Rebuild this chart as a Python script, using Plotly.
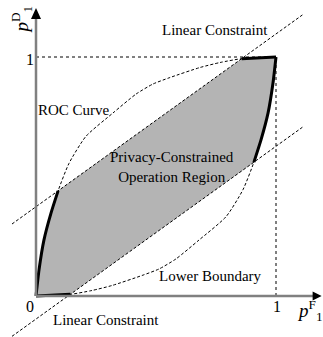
import plotly.graph_objects as go

# ROC curve read as (false-alarm, detection) probability pairs
roc_pf = [0, 0.0125, 0.033, 0.0625, 0.092, 0.1375, 0.208, 0.321, 0.417, 0.4875, 0.558, 0.683, 0.767, 0.857, 1]
roc_pd = [0, 0.109, 0.234, 0.347, 0.44, 0.555, 0.668, 0.766, 0.845, 0.887, 0.914, 0.956, 0.977, 0.993, 1]

# indices where the upper linear constraint meets the ROC curve
cut_low = 4    # pF = 0.092
cut_high = 13  # pF = 0.857

# linear constraints: pD = intercept + slope * pF
constraint_slope = 0.7229
upper_intercept = 0.3735
lower_intercept = 1 - upper_intercept - constraint_slope
line_pf = [-0.1, 1.11]

# lower boundary is the ROC curve mirrored through (0.5, 0.5)
lb_pf = [1 - v for v in roc_pf]
lb_pd = [1 - v for v in roc_pd]

FONT = "Liberation Serif, Times New Roman, serif"
fig = go.Figure()

# operation region
reg_x = (roc_pf[:cut_low + 1] + roc_pf[cut_high:]
         + lb_pf[:cut_low + 1] + lb_pf[cut_high:])
reg_y = (roc_pd[:cut_low + 1] + roc_pd[cut_high:]
         + lb_pd[:cut_low + 1] + lb_pd[cut_high:])
fig.add_trace(go.Scatter(x=reg_x, y=reg_y, fill="toself", fillcolor="#b4b4b4",
                         mode="lines", line=dict(width=0), hoverinfo="skip"))

dash = dict(color="black", width=1, dash="3px,2px")
# ROC curve and lower boundary (dashed)
fig.add_trace(go.Scatter(x=roc_pf, y=roc_pd, mode="lines",
                         line=dict(shape="spline", smoothing=0.6, **dash)))
fig.add_trace(go.Scatter(x=lb_pf, y=lb_pd, mode="lines",
                         line=dict(shape="spline", smoothing=0.6, **dash)))
# linear constraints (dashed)
fig.add_trace(go.Scatter(x=line_pf, y=[upper_intercept + constraint_slope * v for v in line_pf],
                         mode="lines", line=dash))
fig.add_trace(go.Scatter(x=line_pf, y=[lower_intercept + constraint_slope * v for v in line_pf],
                         mode="lines", line=dash))

# bold parts of the region boundary
bold = dict(color="black", width=3, shape="spline", smoothing=0.6)
for xs, ys in [(roc_pf[:cut_low + 1], roc_pd[:cut_low + 1]),
               (roc_pf[cut_high:], roc_pd[cut_high:]),
               (lb_pf[:cut_low + 1], lb_pd[:cut_low + 1]),
               (lb_pf[cut_high:], lb_pd[cut_high:])]:
    fig.add_trace(go.Scatter(x=xs, y=ys, mode="lines", line=bold))

shapes = [
    # reference lines at probability 1
    dict(type="line", x0=0, y0=1, x1=1, y1=1, line=dict(color="black", width=1, dash="dot")),
    dict(type="line", x0=1, y0=0, x1=1, y1=1, line=dict(color="black", width=1, dash="dot")),
    # axes
    dict(type="line", x0=0, y0=0, x1=1.16, y1=0, line=dict(color="#808080", width=2.5)),
    dict(type="line", x0=0, y0=0, x1=0, y1=1.18, line=dict(color="#808080", width=2.5)),
    # arrowheads
    dict(type="path", xsizemode="pixel", ysizemode="pixel", xanchor=1.19, yanchor=0,
         path="M0,0 L-9,4.5 L-9,-4.5 Z", fillcolor="black", line=dict(width=0)),
    dict(type="path", xsizemode="pixel", ysizemode="pixel", xanchor=0, yanchor=1.205,
         path="M0,0 L-5,-11 L5,-11 Z", fillcolor="black", line=dict(width=0)),
]

def label(x, y, text, size=15, angle=0):
    return dict(x=x, y=y, text=text, showarrow=False, textangle=angle,
                font=dict(family=FONT, size=size, color="black"))

annotations = [
    label(0.158, 0.778, "ROC Curve"),
    label(0.746, 1.113, "Linear Constraint"),
    label(0.565, 0.54, "Privacy-Constrained<br>Operation Region"),
    label(0.729, 0.084, "Lower Boundary"),
    label(0.29, -0.1, "Linear Constraint"),
    label(-0.025, -0.046, "0", 16),
    label(1.004, -0.046, "1", 16),
    label(-0.023, 0.99, "1", 16),
    label(1.14, -0.06, "<i>p</i><sup>F</sup><sub>1</sub>", 19),
    label(-0.06, 1.155, "<i>p</i><sup>D</sup><sub>1</sub>", 19, -90),
]

fig.update_layout(
    width=323, height=337, margin=dict(l=0, r=0, t=0, b=0),
    paper_bgcolor="white", plot_bgcolor="white", showlegend=False,
    font=dict(family=FONT),
    xaxis=dict(range=[-0.15, 1.19583], visible=False, fixedrange=True),
    yaxis=dict(range=[-0.17155, 1.23849], visible=False, fixedrange=True),
    shapes=shapes, annotations=annotations,
)

fig.write_html("out.html")
